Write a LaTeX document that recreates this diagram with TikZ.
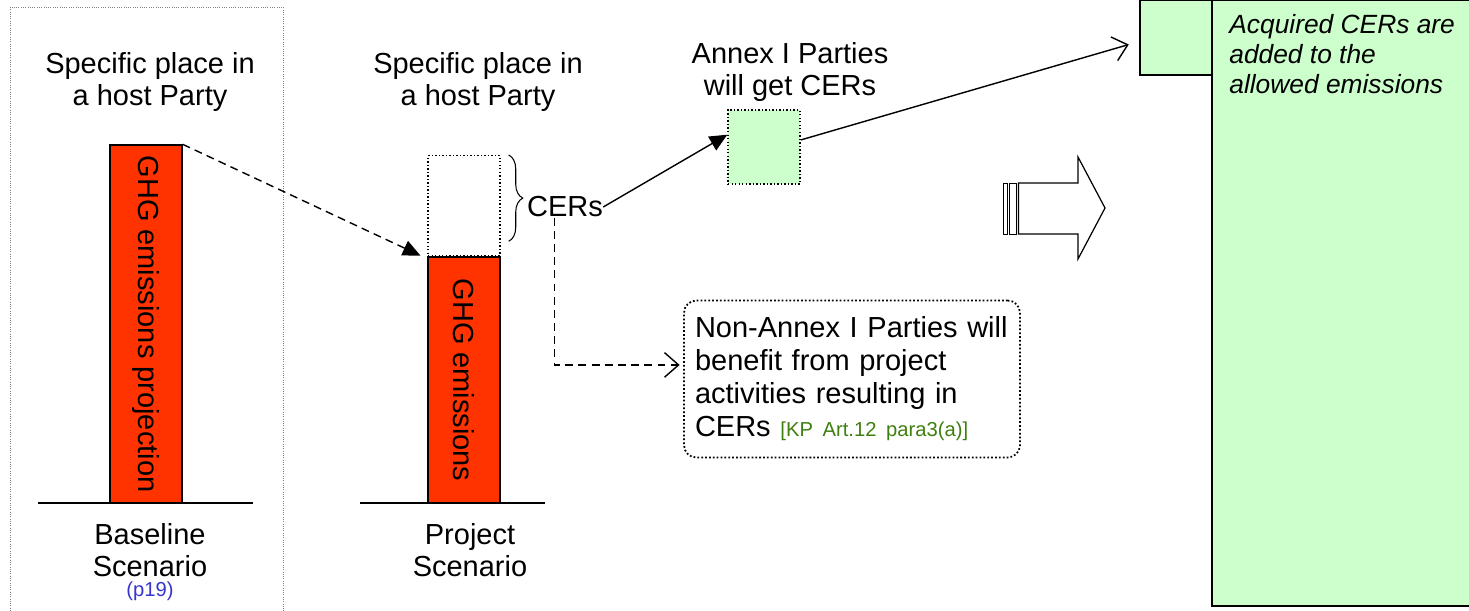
\documentclass[tikz,border=0pt]{standalone}
\usepackage{fontspec}
\setmainfont{Liberation Sans}
\usetikzlibrary{
    arrows.meta,
    decorations.pathreplacing,
    calc,
    positioning
}
\definecolor{ghgred}{HTML}{FF3300}
\definecolor{cergreen}{HTML}{CCFFCC}
\definecolor{refgreen}{HTML}{3F7F10}
\definecolor{pageblue}{HTML}{3535CC}

\begin{document}
\begin{tikzpicture}[x=0.02cm, y=-0.02cm,
    big/.style={font=\fontsize{16.5}{18}\selectfont, align=center, inner sep=0pt},
    bar/.style={draw, fill=ghgred, line width=0.8pt, minimum width=1.44cm, inner sep=0pt},
    cerbox/.style={draw, dash pattern=on 0.8pt off 1.2pt, line width=0.8pt, minimum width=1.44cm, inner sep=0pt},
    dashline/.style={line width=0.8pt, dash pattern=on 4.5pt off 3pt},
    fullhead/.style={-{Triangle[length=10pt, width=9pt]}},
    openhead/.style={-{Straight Barb[length=8pt, width=14pt]}}]
                                    \clip (0, 0) rectangle (1469, 611);
                                    \draw[gray, dash pattern=on 0.5pt off 0.8pt] (10, 7) rectangle (283, 650);
                                    % baseline scenario
                                    \node[big] (place1) at (150, 82) {Specific place in\\a host Party};
                                    \node[bar, minimum height=7.16cm] (base) at (146, 324) {};
                                    \node[big, rotate=-90] (basetxt) at (base.center) {GHG emissions projection};
                                    \draw[line width=0.8pt] (38, 503) -- (253, 503);
                                    \node[big] (baseline) at (150, 550) {Baseline\\Scenario};
                                    \node[font=\fontsize{11.5}{12}\selectfont, text=pageblue, inner sep=0pt] (p19) at (150, 591) {(p19)};
                                    % project scenario
                                    \node[big] (place2) at (478, 82) {Specific place in\\a host Party};
                                    \node[bar, minimum height=4.92cm] (proj) at (464, 380) {};
                                    \node[big, rotate=-90] (projtxt) at (proj.center) {GHG emissions};
                                    \node[cerbox, minimum height=2cm, anchor=south] (cerbox) at (proj.north) {};
                                    \draw[line width=0.8pt] (360, 503) -- (545, 503);
                                    \node[big] (project) at (470, 550) {Project\\Scenario};
                                    \draw[line width=0.6pt, decorate, decoration={brace, amplitude=8pt}]
                                    ($(cerbox.north east) + (8, 0)$) -- ($(cerbox.south east) + (8, -15)$);
                                    \node[big] (cers) at (565, 207) {CERs};
                                    % annex I and non-annex I
                                    \node[big] (annex) at (790, 72) {Annex I Parties\\will get CERs};
                                    \node[cerbox, fill=cergreen, minimum height=1.48cm] (annexbox) at (764, 147) {};
                                    \node[draw, rounded corners=7pt, line width=1pt, dash pattern=on 1pt off 1.2pt,
                                    minimum width=6.72cm, minimum height=3.14cm, text width=6.28cm, align=left,
                                    font=\fontsize{16.5}{18.8}\selectfont] (benefit) at (852, 379)
                                    {Non-Annex I Parties will\\benefit from project\\activities resulting in\\CERs {\color{refgreen}\fontsize{11.5}{14}\selectfont [KP Art.12 para3(a)]}};
                                    % acquiring party
                                    \draw[line width=0.8pt, fill=cergreen] (1212, 0) rectangle (1480, 606);
                                    \node[draw, line width=0.8pt, fill=cergreen, minimum width=1.44cm, minimum height=1.5cm] (acq) at (1176, 37.5) {};
                                    \node[anchor=north west, align=left, inner sep=0pt,
                                    font=\fontsize{15}{17}\itshape] (acqtxt) at (1229, 14)
                                    {Acquired CERs are\\added to the\\allowed emissions};
                                    % hollow arrow
                                    \draw[line width=0.45pt] (1003, 183) rectangle (1007, 234);
                                    \draw[line width=0.45pt] (1009.5, 183) rectangle (1016, 234);
                                    \draw[line width=0.7pt] (1018.5, 183) -- (1078, 183) -- (1078, 157) -- (1105, 208)
                                    -- (1078, 259) -- (1078, 234) -- (1018.5, 234) -- cycle;
                                    \draw[line width=0.8pt]
                                    (base.north east) edge[dashline, fullhead, shorten >=1pt] ([xshift=-3pt]proj.north west)
                                    (cers.east) edge[fullhead] ([yshift=7pt]annexbox.west)
                                    ([yshift=4pt]annexbox.east) edge[openhead] ([shift={(-6pt, -4pt)}]acq.west);
                                    \draw[dashline, openhead] ([xshift=-6pt]cers.south) |- ([xshift=-2pt, yshift=8pt]benefit.west);
                                \end{tikzpicture}
\end{document}
